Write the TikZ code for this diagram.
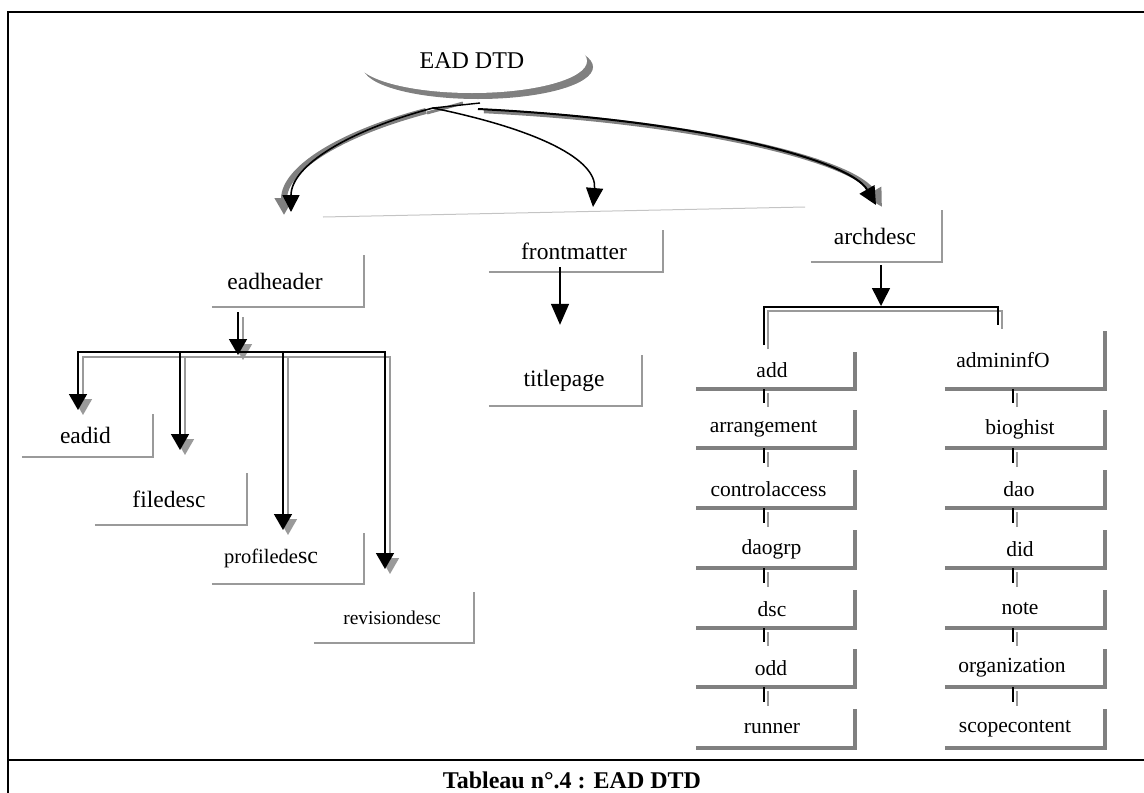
\documentclass[tikz,border=0pt]{standalone}
\usepackage{fontspec}
\setmainfont{Liberation Serif}
\usetikzlibrary{arrows.meta,shapes.geometric,shadows}
\definecolor{shd}{HTML}{808080}
\definecolor{lshd}{HTML}{9A9A9A}
\definecolor{sepc}{HTML}{C4C4C4}
\newcommand\headtree[1]{%
  \draw[#1, shorten <=5pt, -{Triangle[width=18pt,length=16pt]}] (hb |- eadheader.south) -- (hbt);
  \draw[#1, {Triangle[width=18pt,length=16pt]}-{Triangle[width=18pt,length=16pt]}] (t1) -- (b1) -- (b4) -- (t4);
  \draw[#1, -{Triangle[width=18pt,length=16pt]}] (b2) -- (t2);
  \draw[#1, -{Triangle[width=18pt,length=16pt]}] (b3) -- (t3);
}
\begin{document}
\begin{tikzpicture}[x=1pt,y=-1pt,
  lbl/.style={inner sep=0pt, font=\fontsize{23.5}{28}\selectfont},
  colL/.style={inner sep=0pt, minimum width=159pt, minimum height=38pt, font=\fontsize{21.5}{26}\selectfont},
  colR/.style={inner sep=0pt, minimum width=160pt, minimum height=38pt, font=\fontsize{21.5}{26}\selectfont},
  lshadow/.style={draw=lshd, line width=2.2pt},
  dshadow/.style={draw=shd, line width=3.5pt},
  blk/.style={draw=black, line width=1.6pt, fill=none},
  gry/.style={draw=lshd, line width=1.5pt, fill=none},
  sh5/.style={transform canvas={shift={(5,5)}}},
  sh4/.style={transform canvas={shift={(4,4)}}},
]
\useasboundingbox (0,0) rectangle (1144,793);

% frame
\draw[line width=2.5pt] (8,793) -- (8,12) -- (1144,12);
\draw[line width=2.5pt] (8,760) -- (1144,760);
\node[font=\bfseries\fontsize{24}{28}\selectfont] (caption) at (572,780) {Tableau n°.4 : EAD DTD};

% root
\node[ellipse, fill=white, minimum width=230pt, minimum height=64pt, inner sep=0pt,
      drop shadow={shadow xshift=6pt, shadow yshift=-6pt, fill=shd, opacity=1},
      font=\fontsize{24}{28}\selectfont] (ead) at (472,61) {EAD DTD};

% separator
\coordinate (s1) at (323,217);
\coordinate (s2) at (805,207);
\draw[sepc, line width=1pt] (s1) -- (s2);

% left / middle boxes
\node[lbl, minimum width=152pt, minimum height=52pt] (eadheader) at (288,281) {eadheader\hspace*{26pt}};
\node[lbl, minimum width=131pt, minimum height=43pt] (eadid) at (87.5,435.5) {eadid\hspace*{4pt}};
\node[lbl, minimum width=152pt, minimum height=52pt] (filedesc) at (171,499) {filedesc\hspace*{4pt}};
\node[lbl, minimum width=152pt, minimum height=51pt] (profiledesc) at (288,558.5) {\fontsize{20.5}{24}\selectfont profilede{\fontsize{24}{24}\selectfont sc}\hspace*{34pt}};
\node[lbl, minimum width=160pt, minimum height=51pt] (revisiondesc) at (394,617.5) {\fontsize{19.5}{24}\selectfont revisiondesc\hspace*{4pt}};
\node[lbl, minimum width=174pt, minimum height=42pt] (frontmatter) at (576,251) {frontmatter\hspace*{4pt}};
\node[lbl, minimum width=153pt, minimum height=51pt] (titlepage) at (565.5,380.5) {titlepage\hspace*{3pt}};
\node[lbl, minimum width=131pt, minimum height=52pt] (archdesc) at (876.5,236) {archdesc\hspace*{3pt}};

% archdesc columns
\node[colL, minimum height=37pt] (add) at (775.5,370.5) {add\hspace*{7pt}};
\node[colL] (arrangement) at (775.5,429) {arrangement\hspace*{24pt}};
\node[colL] (controlaccess) at (775.5,489) {controlaccess\hspace*{14pt}};
\node[colL] (daogrp) at (775.5,549) {daogrp\hspace*{8pt}};
\node[colL] (dsc) at (775.5,609) {dsc\hspace*{7pt}};
\node[colL] (odd) at (775.5,668) {odd\hspace*{9pt}};
\node[colL, minimum height=39pt] (runner) at (775.5,728.5) {runner\hspace*{7pt}};
\node[colR, minimum height=58pt] (admininfo) at (1025,360) {admininfO\hspace*{44pt}};
\node[colR] (bioghist) at (1025,429) {bioghist\hspace*{10pt}};
\node[colR] (dao) at (1025,489) {dao\hspace*{12pt}};
\node[colR] (did) at (1025,549) {did\hspace*{10pt}};
\node[colR] (note) at (1025,609) {note\hspace*{10pt}};
\node[colR] (organization) at (1025,668) {organization\hspace*{26pt}};
\node[colR, minimum height=39pt] (scopecontent) at (1025,728.5) {scopecontent\hspace*{20pt}};

% box shadows
\foreach \n in {eadheader,eadid,filedesc,profiledesc,revisiondesc,frontmatter,titlepage,archdesc}
  \draw[lshadow] (\n.south west) -- (\n.south east) -- (\n.north east);
\foreach \n in {add,arrangement,controlaccess,daogrp,dsc,odd,runner,admininfo,bioghist,dao,did,note,organization,scopecontent}
  \draw[dshadow] (\n.south west) -- (\n.south east) -- (\n.north east);

% top arrows
\coordinate (j) at (433,108);
\coordinate (j2) at (480,103);
\coordinate (jg1) at (427,113);
\coordinate (jg2) at (463,103);
\coordinate (ja) at (478,109);
\coordinate (te) at (291,212);
\coordinate (tf) at (593,207);
\coordinate (tarch) at (876,205);
\draw[shd, line width=6pt, transform canvas={shift={(-7,3)}}, -{Triangle[width=18pt,length=17pt]}]
  (j) .. controls (350,130) and (291,165) .. (te);
\draw[shd, line width=3pt] (jg1) -- (jg2);
\draw[blk, -{Triangle[width=17pt,length=17pt]}] (j) .. controls (350,130) and (291,165) .. (te);
\draw[blk, line width=1.4pt] (j) -- (j2);
\draw[blk, line width=1.5pt, -{Triangle[width=17pt,length=19pt]}] (j) .. controls (540,130) and (597,160) .. (tf);
\draw[shd, line width=4.5pt, transform canvas={shift={(6,2)}}, -{Triangle[width=18pt,length=18pt]}]
  (ja) .. controls (700,120) and (850,160) .. (tarch);
\draw[blk, line width=2pt, -{Triangle[width=17pt,length=18pt]}] (ja) .. controls (700,120) and (850,160) .. (tarch);

% eadheader tree
\coordinate (hb) at (238,352);
\coordinate (hbt) at (238,355);
\coordinate (b1) at (78,352);
\coordinate (b2) at (180,352);
\coordinate (b3) at (283,352);
\coordinate (b4) at (385,352);
\coordinate (t1) at (78,410);
\coordinate (t2) at (180,450);
\coordinate (t3) at (283,530);
\coordinate (t4) at (385,569);
\headtree{gry,sh5}
\headtree{blk}

% frontmatter -> titlepage
\coordinate (fx) at (560,0);
\draw[blk, line width=1.5pt, shorten <=-5pt, shorten >=30pt, -{Triangle[width=18pt,length=21pt]}]
  (frontmatter.south -| fx) -- (titlepage.north -| fx);

% archdesc tree
\coordinate (ab) at (881,306);
\coordinate (al) at (764,307);
\coordinate (ar) at (998,307);
\coordinate (alt) at (764,345);
\coordinate (art) at (998,325);
\draw[blk, line width=1.5pt, shorten <=3pt, -{Triangle[width=18pt,length=18pt]}] (ab |- archdesc.south) -- (ab);
\draw[gry, sh4] (alt) -- (al) -- (ar) -- (art);
\draw[blk] (alt) -- (al) -- (ar) -- (art);

\coordinate (lc) at (764,0);
\coordinate (rc) at (1013,0);
\foreach \a/\b in {add/arrangement,arrangement/controlaccess,controlaccess/daogrp,daogrp/dsc,dsc/odd,odd/runner}{
  \draw[gry, sh4, shorten >=7pt] (\a.south -| lc) -- (\b.north -| lc);
  \draw[blk, shorten >=7pt] (\a.south -| lc) -- (\b.north -| lc);
}
\foreach \a/\b in {admininfo/bioghist,bioghist/dao,dao/did,did/note,note/organization,organization/scopecontent}{
  \draw[gry, sh4, shorten >=7pt] (\a.south -| rc) -- (\b.north -| rc);
  \draw[blk, shorten >=7pt] (\a.south -| rc) -- (\b.north -| rc);
}
\end{tikzpicture}
\end{document}
